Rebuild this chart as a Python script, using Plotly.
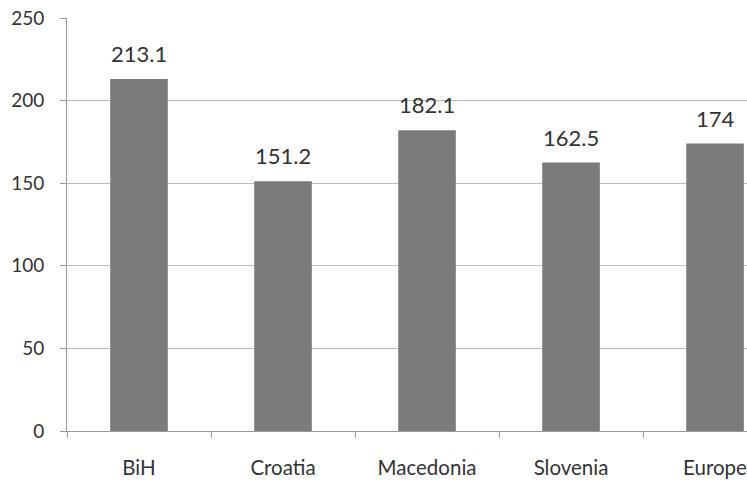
import plotly.graph_objects as go

# Values per region
categories = ["BiH", "Croatia", "Macedonia", "Slovenia", "Europe"]
values = [213.1, 151.2, 182.1, 162.5, 174]
y_ticks = [0, 50, 100, 150, 200, 250]

FONT = "Lato, 'Open Sans', sans-serif"
TEXT = "#333333"

fig = go.Figure(
    go.Bar(
        x=categories,
        y=values,
        marker=dict(color="#7b7b7b", line=dict(width=0)),
        hoverinfo="x+y",
    )
)

# value labels above each bar
for c, v in zip(categories, values):
    fig.add_annotation(
        x=c, y=v, text=f"{v:g}", showarrow=False,
        yanchor="bottom", yshift=10,
        font=dict(family=FONT, size=22, color=TEXT),
    )

fig.update_layout(
    width=747, height=482,
    margin=dict(l=67, r=0, t=18, b=51),
    paper_bgcolor="white", plot_bgcolor="white",
    bargap=0.6,
    showlegend=False,
    font=dict(family=FONT, color=TEXT),
)

fig.update_xaxes(
    range=[-0.5, 4.222],
    showline=True, linecolor="#9a9a9a", linewidth=1,
    ticks="outside", tickson="boundaries", ticklen=6, tickcolor="#9a9a9a",
    showgrid=False, zeroline=False,
    tickfont=dict(family=FONT, size=20.5, color=TEXT),
    ticklabelstandoff=18,
)

fig.update_yaxes(
    range=[0, 250],
    tickvals=y_ticks,
    showline=True, linecolor="#9a9a9a", linewidth=1,
    ticks="outside", ticklen=6, tickcolor="#9a9a9a",
    showgrid=True, gridcolor="#bcbcbc", gridwidth=1,
    zeroline=False,
    tickfont=dict(family=FONT, size=19, color=TEXT),
    ticklabelstandoff=12,
)

fig.write_html("out.html")
